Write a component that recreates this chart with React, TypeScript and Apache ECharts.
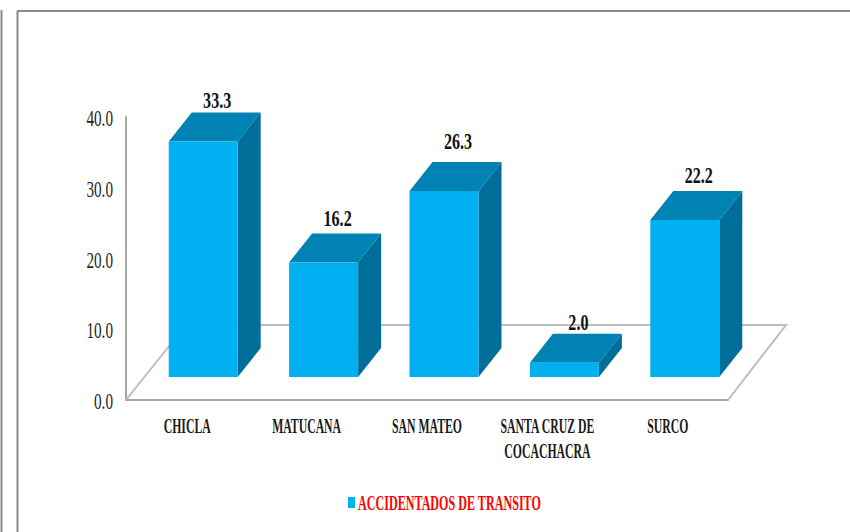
import React, { useEffect, useRef } from "react";
import * as echarts from "echarts";

const categories = ["CHICLA", "MATUCANA", "SAN MATEO", "SANTA CRUZ DE\nCOCACHACRA", "SURCO"];
const seriesName = "ACCIDENTADOS DE TRANSITO";
const accidentados = [33.3, 16.2, 26.3, 2.0, 22.2];
const yTicks = [0, 10, 20, 30, 40];
const labelNudge = [2, 0, -6, 3, -1];

const FONT = '"Liberation Serif"';
const C = { front: "#00B0F0", top: "#0083B4", side: "#006E99", floor: "#BDBDBD", axis: "#A6A6A6", frame: "#8C8C8C" };
const DX = 23;
const DY = 29;
const LIFT = 23;
const BAR_W = 69;
const BAR_SHIFT = 17;

function poly(points: number[][], fill: string) {
  return { type: "polygon", shape: { points }, style: { fill } };
}

export default function App() {
  const ref = useRef<HTMLDivElement>(null);
  useEffect(() => {
    const chart = echarts.init(ref.current!, null, { renderer: "svg" });
    chart.setOption({
      animation: false,
      backgroundColor: "#ffffff",
      grid: { left: 126, right: 122, top: 117, bottom: 132, containLabel: false },
      xAxis: {
        type: "category",
        data: categories,
        axisLine: { show: true, lineStyle: { color: C.axis, width: 2 } },
        axisTick: { show: false },
        axisLabel: { show: false },
      },
      yAxis: {
        type: "value",
        min: 0,
        max: 40,
        interval: 10,
        splitLine: { show: false },
        axisTick: { show: false },
        axisLine: { show: true, lineStyle: { color: C.axis, width: 2 } },
        axisLabel: { show: false },
      },
      series: [
        {
          type: "custom",
          name: "floor",
          clip: false,
          silent: true,
          z: 1,
          data: [0],
          renderItem: (_p: any, api: any) => {
            const band = api.size([1, 0])[0];
            const o = api.coord([0, 0]);
            const l = o[0] - band / 2;
            const r = l + band * categories.length;
            const y = o[1];
            const backY = y - 75;
            return {
              type: "polyline",
              shape: { points: [[l, y], [l + 60, backY], [r + 58, backY], [r, y]] },
              style: { stroke: C.floor, lineWidth: 2, fill: null },
            };
          },
        },
        {
          type: "custom",
          name: seriesName,
          clip: false,
          z: 2,
          data: accidentados.map((v, i) => [i, v]),
          renderItem: (_p: any, api: any) => {
            const i = api.value(0);
            const t = api.coord([i, api.value(1)]);
            const b = api.coord([i, 0]);
            const x0 = t[0] + BAR_SHIFT - BAR_W / 2;
            const x1 = x0 + BAR_W;
            const yt = t[1] - LIFT;
            const yb = b[1] - LIFT;
            return {
              type: "group",
              children: [
                poly([[x1, yt], [x1 + DX, yt - DY], [x1 + DX, yb - DY], [x1, yb]], C.side),
                poly([[x0, yt], [x0 + DX, yt - DY], [x1 + DX, yt - DY], [x1, yt]], C.top),
                { type: "rect", shape: { x: x0, y: yt, width: BAR_W, height: yb - yt }, style: { fill: C.front } },
                {
                  type: "text",
                  x: x0 + BAR_W / 2 + 14,
                  y: yt - 44 + labelNudge[i],
                  scaleX: 0.7,
                  style: {
                    text: api.value(1).toFixed(1),
                    font: `bold 23px ${FONT}`,
                    fill: "#111111",
                    textAlign: "center",
                    textVerticalAlign: "middle",
                  },
                },
              ],
            };
          },
        },
        {
          type: "custom",
          name: "category labels",
          clip: false,
          silent: true,
          z: 3,
          data: categories.map((_, i) => [i]),
          renderItem: (_p: any, api: any) => {
            const i = api.value(0);
            const o = api.coord([i, 0]);
            return {
              type: "text",
              x: o[0] + (i === 0 ? 1 : 0),
              y: o[1] + 14,
              scaleX: 0.56,
              style: {
                text: categories[i],
                font: `bold 21px ${FONT}`,
                lineHeight: 25,
                fill: "#1a1a1a",
                textAlign: "center",
                textVerticalAlign: "top",
              },
            };
          },
        },
        {
          type: "custom",
          name: "value ticks",
          clip: false,
          silent: true,
          z: 3,
          data: yTicks.map((v) => [0, v]),
          renderItem: (_p: any, api: any) => {
            const v = api.value(1);
            const band = api.size([1, 0])[0];
            const o = api.coord([0, v]);
            return {
              type: "text",
              x: o[0] - band / 2 - 13,
              y: o[1] + 1.5,
              scaleX: 0.66,
              style: {
                text: v.toFixed(1),
                font: `23px ${FONT}`,
                fill: "#1f1f1f",
                textAlign: "right",
                textVerticalAlign: "middle",
              },
            };
          },
        },
      ],
      graphic: [
        { type: "line", shape: { x1: 1.5, y1: 10, x2: 1.5, y2: 532 }, style: { stroke: C.frame, lineWidth: 2 } },
        { type: "line", shape: { x1: 17.5, y1: 11, x2: 17.5, y2: 532 }, style: { stroke: C.frame, lineWidth: 2 } },
        { type: "line", shape: { x1: 17, y1: 11, x2: 850, y2: 11 }, style: { stroke: C.frame, lineWidth: 2 } },
        { type: "rect", shape: { x: 348, y: 497, width: 7, height: 11 }, style: { fill: C.front } },
        {
          type: "text",
          x: 358,
          y: 503,
          scaleX: 0.55,
          style: {
            text: seriesName,
            font: `bold 22px ${FONT}`,
            fill: "#FF0000",
            textAlign: "left",
            textVerticalAlign: "middle",
          },
        },
      ],
    });
    return () => chart.dispose();
  }, []);
  return <div ref={ref} style={{ position: "absolute", left: 0, top: 0, width: 850, height: 532 }} />;
}
